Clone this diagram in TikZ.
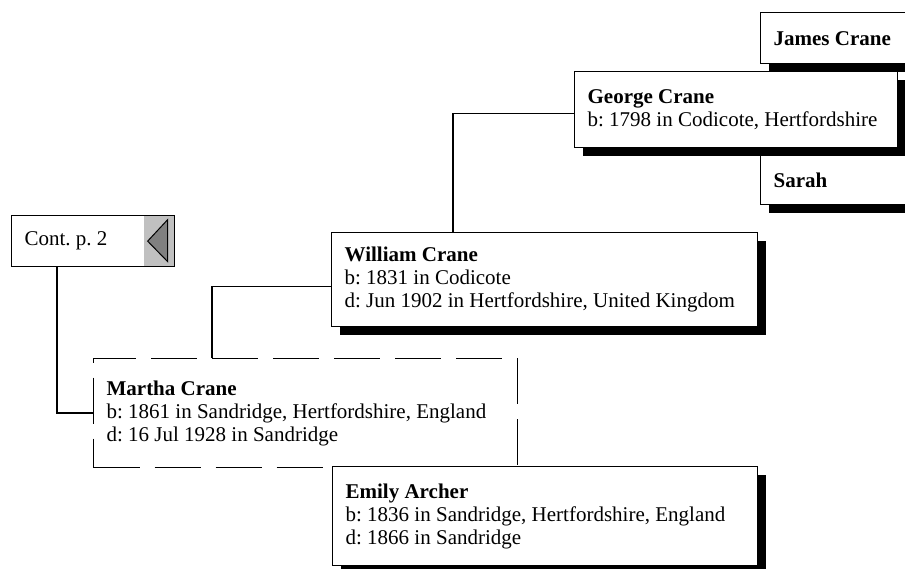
\documentclass[tikz,border=0pt]{standalone}
\usepackage{fontspec}
\setmainfont{Liberation Serif}
\usetikzlibrary{shadows,positioning}
\definecolor{tabgray}{HTML}{C0C0C0}
\definecolor{arrowgray}{HTML}{808080}
\tikzset{
  person/.style={draw,line width=0.65pt,fill=white,anchor=north west,align=flush left,
    inner xsep=6.5pt,inner ysep=0pt,font=\fontsize{10.5}{11.5}\selectfont\frenchspacing},
  shadowed/.style={person,
    drop shadow={fill=black,opacity=1,shadow xshift=4pt,shadow yshift=-4pt}},
  focus/.style={person,line width=0.6pt,dash pattern=on 23pt off 7.5pt},
  contBox/.style={
    person,
    path picture={
      % grey tab with a left-pointing triangle
      \fill[tabgray] ([xshift=-15.5pt]path picture bounding box.north east)
        rectangle (path picture bounding box.south east);
      \draw[fill=arrowgray,line width=0.5pt]
        ([xshift=-13.5pt]path picture bounding box.east)
        -- ([xshift=-3.5pt,yshift=-2pt]path picture bounding box.north east)
        -- ([xshift=-3.5pt,yshift=2.5pt]path picture bounding box.south east) -- cycle;
    }
  },
  link/.style={line width=0.65pt},
}

\begin{document}
\begin{tikzpicture}[x=0.5pt,y=-0.5pt]
\useasboundingbox (0,0) rectangle (905,568);

% ===== Great-grandparents =====
\node[shadowed,text width=107pt,minimum height=25.5pt] (james) at (760,12) {\textbf{James Crane}};
\node[shadowed,text width=148.5pt,minimum height=38pt] (george) at (574,71)
  {\textbf{George Crane}\\b: 1798 in Codicote, Hertfordshire};
\node[shadowed,text width=107pt,minimum height=24.5pt] (sarah) at (760,155) {\textbf{Sarah}};

% ===== Parents =====
\node[shadowed,text width=200pt,minimum height=47pt] (william) at (331,232)
  {\textbf{William Crane}\\b: 1831 in Codicote\\d: Jun 1902 in Hertfordshire, United Kingdom};

% ===== Continuation =====
\node[contBox,text width=68.5pt,minimum height=25.5pt] (cont) at (11,215) {Cont. p. 2};

% ===== Root person =====
\node[focus,text width=199pt,minimum height=54.5pt] (martha) at (93,358)
  {\textbf{Martha Crane}\\b: 1861 in Sandridge, Hertfordshire, England\\d: 16 Jul 1928 in Sandridge};
\node[shadowed,text width=199.5pt,minimum height=49.5pt] (emily) at (332,466)
  {\textbf{Emily Archer}\\b: 1836 in Sandridge, Hertfordshire, England\\d: 1866 in Sandridge};

% ===== Connections =====
\draw[link] (martha.west) -| ([xshift=23pt]cont.south west);
\draw[link] ([xshift=59.5pt]martha.north west) |- ([yshift=-3.5pt]william.west);
\draw[link] ([xshift=61pt]william.north west) |- ([yshift=-2pt]george.west);

\end{tikzpicture}
\end{document}
